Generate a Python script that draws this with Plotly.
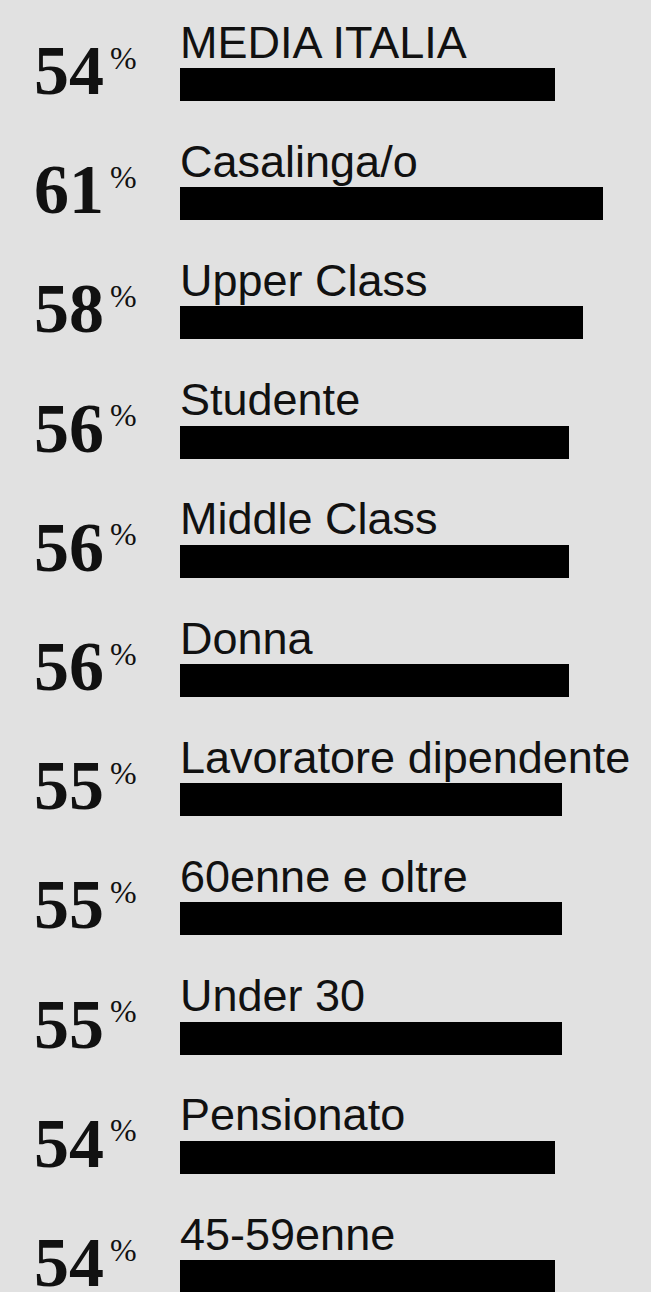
import plotly.graph_objects as go

categories = ["MEDIA ITALIA", "Casalinga/o", "Upper Class", "Studente", "Middle Class",
              "Donna", "Lavoratore dipendente", "60enne e oltre", "Under 30",
              "Pensionato", "45-59enne"]
values = [54, 61, 58, 56, 56, 56, 55, 55, 55, 54, 54]
pct_labels = [str(v) for v in values]

BG = "#e1e1e1"

fig = go.Figure(go.Bar(
    x=values, y=categories, orientation="h",
    marker=dict(color="#000000", line=dict(width=0)),
    width=0.277, hoverinfo="skip",
))

annotations = []
for cat, lab in zip(categories, pct_labels):
    # category label above the bar
    annotations.append(dict(
        x=0, y=cat, xref="x", yref="y", text=cat, showarrow=False,
        xanchor="left", yanchor="bottom", yshift=15, xshift=-2,
        font=dict(family="Liberation Sans, Arial, sans-serif", size=45, color="#111111"),
    ))
    # big number
    annotations.append(dict(
        x=0, y=cat, xref="paper", yref="y", text="<b>" + lab + "</b>", showarrow=False,
        xanchor="right", yanchor="middle", xshift=-74, yshift=14,
        font=dict(family="Liberation Serif, Times New Roman, serif", size=70, color="#111111"),
    ))
    # percent sign
    annotations.append(dict(
        x=0, y=cat, xref="paper", yref="y", text="%", showarrow=False,
        xanchor="left", yanchor="middle", xshift=-72, yshift=27,
        font=dict(family="Liberation Serif, Times New Roman, serif", size=32, color="#111111"),
    ))

fig.update_layout(
    width=651, height=1292,
    margin=dict(l=180, r=0, t=0, b=0),
    paper_bgcolor=BG, plot_bgcolor=BG,
    showlegend=False,
    bargap=0,
    annotations=annotations,
    xaxis=dict(range=[0, 67.87], visible=False, fixedrange=True),
    yaxis=dict(range=[10.13, -0.709], visible=False, fixedrange=True,
               categoryorder="array", categoryarray=categories),
)

fig.write_html("out.html", config={"displayModeBar": False},
               post_script="document.body.style.margin='0';document.body.style.background='" + BG + "';")
